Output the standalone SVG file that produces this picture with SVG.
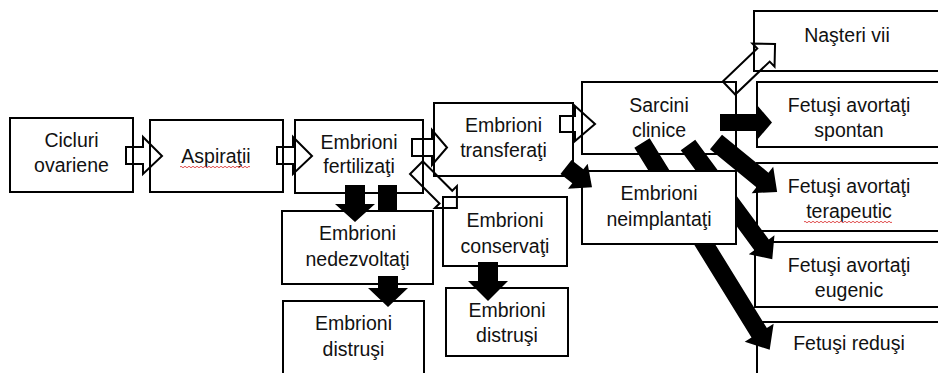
<svg xmlns="http://www.w3.org/2000/svg" width="938" height="373" viewBox="0 0 938 373">
<style>
.box{fill:#fff;stroke:#000;stroke-width:2}
.t{font-family:"Liberation Sans",Arial,sans-serif;font-size:19.5px;text-anchor:middle;fill:#111}
.h{fill:none;stroke:#000;stroke-width:2;stroke-linejoin:miter}
.b{fill:#000}
.sq{fill:none;stroke:#e05050;stroke-width:1}
</style>
<defs>
<clipPath id="notNeimp" clipPathUnits="userSpaceOnUse"><path clip-rule="evenodd" d="M0,0 H938 V373 H0 Z M581,170 H737 V245 H581 Z"/></clipPath>
</defs>
<rect width="938" height="373" fill="#fff"/>
<g id="cicluri"><rect class="box" x="10" y="118" width="123" height="74"/><text class="t" x="71.5" y="147">Cicluri</text><text class="t" x="71.5" y="172">ovariene</text></g>
<g id="aspiratii"><rect class="box" x="150" y="120" width="133" height="72"/><text class="t" x="216" y="163">Aspiraţii</text><path class="sq" d="M180,167 q1,-1.5 2,0 t2,0 t2,0 t2,0 t2,0 t2,0 t2,0 t2,0 t2,0 t2,0 t2,0 t2,0 t2,0 t2,0 t2,0 t2,0 t2,0 t2,0 t2,0 t2,0 t2,0 t2,0 t2,0 t2,0 t2,0 t2,0 t2,0 t2,0 t2,0 t2,0 t2,0 t2,0 t2,0 t2,0 t2,0"/></g>
<g id="fertilizati"><rect class="box" x="295" y="120" width="128" height="73"/><text class="t" x="359" y="149">Embrioni</text><text class="t" x="359" y="173">fertilizaţi</text></g>
<g id="transferati"><rect class="box" x="434" y="103" width="139" height="73"/><text class="t" x="503.5" y="132">Embrioni</text><text class="t" x="503.5" y="157">transferaţi</text></g>
<g id="sarcini"><rect class="box" x="582" y="82" width="154" height="72"/><text class="t" x="659" y="112">Sarcini</text><text class="t" x="659" y="137">clinice</text></g>
<g id="neimplantati"><rect class="box" x="582" y="171" width="154" height="73"/><text class="t" x="659" y="200">Embrioni</text><text class="t" x="659" y="226">neimplantaţi</text></g>
<g id="nedezvoltati"><rect class="box" x="282" y="211" width="151" height="73"/><text class="t" x="357.5" y="240">Embrioni</text><text class="t" x="357.5" y="266">nedezvoltaţi</text></g>
<g id="conservati"><rect class="box" x="443" y="197" width="124" height="69"/><text class="t" x="505" y="227">Embrioni</text><text class="t" x="505" y="253">conservaţi</text></g>
<g id="distrusi1"><rect class="box" x="283" y="301" width="141" height="80"/><text class="t" x="353.5" y="330">Embrioni</text><text class="t" x="353.5" y="356">distruşi</text></g>
<g id="distrusi2"><rect class="box" x="446" y="288" width="122" height="68"/><text class="t" x="507" y="317">Embrioni</text><text class="t" x="507" y="342">distruşi</text></g>
<g id="nasteri"><rect class="box" x="754" y="11" width="187" height="60"/><text class="t" x="847" y="42">Naşteri vii</text></g>
<g id="spontan"><rect class="box" x="757" y="82" width="184" height="65"/><text class="t" x="849" y="112">Fetuşi avortaţi</text><text class="t" x="849" y="137">spontan</text></g>
<g id="terapeutic"><rect class="box" x="757" y="163" width="184" height="68"/><text class="t" x="849" y="193">Fetuşi avortaţi</text><text class="t" x="849" y="218">terapeutic</text><path class="sq" d="M804,222 q1,-1.5 2,0 t2,0 t2,0 t2,0 t2,0 t2,0 t2,0 t2,0 t2,0 t2,0 t2,0 t2,0 t2,0 t2,0 t2,0 t2,0 t2,0 t2,0 t2,0 t2,0 t2,0 t2,0 t2,0 t2,0 t2,0 t2,0 t2,0 t2,0 t2,0 t2,0 t2,0 t2,0 t2,0 t2,0 t2,0 t2,0 t2,0 t2,0 t2,0 t2,0 t2,0 t2,0 t2,0 t2,0"/></g>
<g id="eugenic"><rect class="box" x="755" y="242" width="186" height="65"/><text class="t" x="849" y="272">Fetuşi avortaţi</text><text class="t" x="849" y="297">eugenic</text></g>
<g id="redusi"><rect class="box" x="757" y="322" width="184" height="60"/><text class="t" x="849" y="350">Fetuşi reduşi</text></g>
<g id="connectors">
<path class="h" d="M126,147 H143 V137 L162,156 L143,174 V164 H126 Z"/>
<path class="h" d="M277,147 H293 V137 L312,156 L293,174 V164 H277 Z"/>
<path class="h" d="M412,139 H432 V130 L447,147.5 L432,165 V156 H412 Z"/>
<path class="h" d="M560,116 H575 V106 L595,124 L575,141 V132 H560 Z"/>
<path class="h" transform="translate(416.4,167.6) rotate(45)" d="M0,-9 H41.7 V-15.6 L57.3,0 L41.7,15.6 V9 H0 Z"/>
<path class="h" transform="translate(729,88) rotate(-43.7)" d="M0,-9 H47.7 V-16 L63.7,0 L47.7,16 V9 H0 Z"/>
<path class="b" d="M345,185 H365 V204 H375 L355,222 L335,204 H345 Z"/>
<rect class="b" x="378" y="185" width="19" height="25"/>
<path class="b" d="M378,276 H398 V288 H408 L388,307 L368,288 H378 Z"/>
<path class="b" d="M478,262 H498 V281 H508 L488,301 L468,281 H478 Z"/>
<path class="b" transform="translate(566,167) rotate(38)" d="M0,-9 H15 V-16 L33,0 L15,16 V9 H0 Z"/>
<path class="b" d="M720,114 H757 V105 L772,122.5 L757,140 V131 H720 Z"/>
<path class="b" transform="translate(716,142) rotate(39.3)" d="M0,-9.5 H60 V-17 L79,0 L60,17 V9.5 H0 Z"/>
<g clip-path="url(#notNeimp)">
<path class="b" transform="translate(688,145) rotate(53.6)" d="M0,-9 H124 V-16 L142,0 L124,16 V9 H0 Z"/>
<path class="b" transform="translate(642,143) rotate(58.3)" d="M0,-9 H223 V-17 L243,0 L223,17 V9 H0 Z"/>
</g>
</g>
</svg>
